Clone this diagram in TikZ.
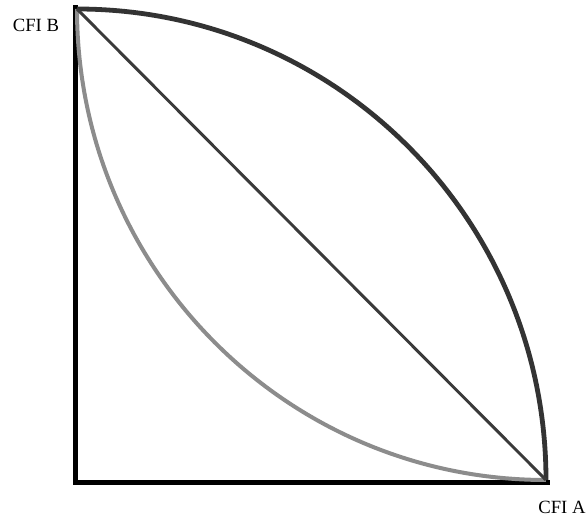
\documentclass[tikz,border=0pt]{standalone}
\usepackage{fontspec}
\setmainfont{Liberation Serif}
\definecolor{darkcurve}{HTML}{333333}
\definecolor{lightcurve}{HTML}{8C8C8C}
\definecolor{diagline}{HTML}{3A3A3A}
\begin{document}
\begin{tikzpicture}[x=0.75pt,y=0.75pt,
  axis/.style={line width=4.3pt,black},
  upper/.style={line width=3.6pt,darkcurve},
  lower/.style={line width=3pt,lightcurve},
  diag/.style={line width=2.2pt,diagline},
  lbl/.style={font=\fontsize{14}{16}\selectfont,inner sep=0pt}]
\useasboundingbox (0,0) rectangle (587,518);
\fill[white] (0,0) rectangle (587,518);
\coordinate (O) at (75.5,35.5);
\coordinate (T) at (75.5,510);
\coordinate (R) at (547,35.5);
\coordinate (Tc) at (77,509);
\coordinate (Rc) at (546,38);
\draw[axis,line cap=rect] (T) -- (O) -- (R);
\draw[lower] (Tc) arc[start angle=180,end angle=270,x radius=351.75pt,y radius=353.25pt];
\draw[upper] (Tc) arc[start angle=90,end angle=0,x radius=351.75pt,y radius=353.25pt];
\draw[diag] (Tc) -- (Rc);
\node[lbl] (B) at (36,493) {CFI B};
\node[lbl] (A) at (562,11) {CFI A};
\end{tikzpicture}
\end{document}
